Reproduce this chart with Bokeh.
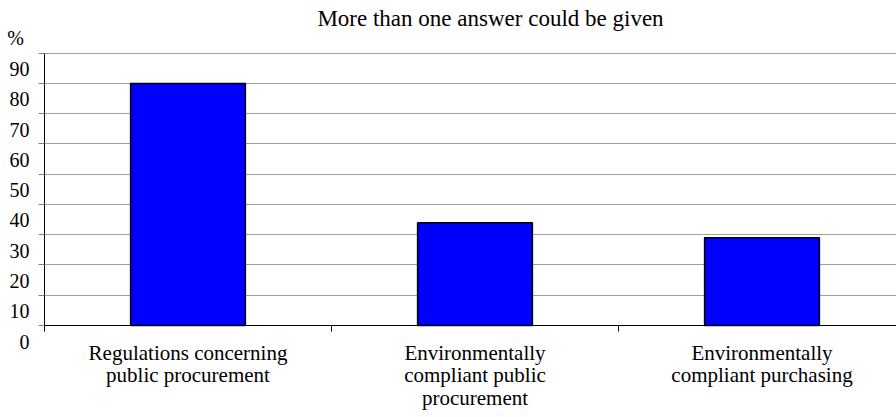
from bokeh.plotting import figure
from bokeh.models import FixedTicker, ColumnDataSource, Range1d
from bokeh.core.properties import value
from bokeh.embed import file_html
from bokeh.resources import INLINE

# ---- data ----
categories = [
    "Regulations concerning\npublic procurement",
    "Environmentally\ncompliant public\nprocurement",
    "Environmentally\ncompliant purchasing",
]
values = [80, 34, 29]
y_ticks = [0, 10, 20, 30, 40, 50, 60, 70, 80, 90]
y_tick_labels = ["0", "10", "20", "30", "40", "50", "60", "70", "80", "90"]
title_text = "More than one answer could be given"
unit_text = "%"

# ---- layout constants (pixels) ----
FONT = "Liberation Serif"
W, H = 896, 417
PLOT_LEFT = 44        # pixel of the y axis
BASELINE = 325        # pixel of value 0
TOP = 52.7            # pixel of value 90
CAT_W = 287           # pixels per category

n = len(categories)
centers = [i + 0.5 for i in range(n)]
boundaries = [float(i) for i in range(n + 1)]
y_max = y_ticks[-1]
px_per_unit = (BASELINE - TOP) / y_max

x_start = -PLOT_LEFT / CAT_W
x_end = (W - PLOT_LEFT) / CAT_W
y_end = BASELINE / px_per_unit
y_start = -(H - BASELINE) / px_per_unit

p = figure(
    width=W, height=H,
    x_range=Range1d(x_start, x_end), y_range=Range1d(y_start, y_end),
    output_backend="svg", toolbar_location=None,
    min_border_left=0, min_border_right=0, min_border_top=0, min_border_bottom=0,
)
p.outline_line_color = None
p.background_fill_color = "white"
p.border_fill_color = "white"

# grid
p.xgrid.visible = False
p.ygrid.ticker = FixedTicker(ticks=y_ticks)
p.ygrid.bounds = (0, y_max)
p.ygrid.grid_line_color = "#a0a0a0"
p.ygrid.grid_line_width = 1
try:
    p.ygrid.cross_bounds = (0, x_end)
except Exception:
    p.ygrid.visible = False
    p.segment(x0=[0] * len(y_ticks), x1=[x_end] * len(y_ticks), y0=y_ticks, y1=y_ticks,
              line_color="#a0a0a0", line_width=1)

# bars
src = ColumnDataSource(dict(x=centers, top=values))
p.vbar(x="x", top="top", bottom=0, width=0.4, source=src,
       fill_color="#0000ff", line_color="black", line_width=1.5)

# x axis drawn at y = 0
xa = p.xaxis[0]
xa.fixed_location = 0
xa.bounds = (0, x_end)
xa.ticker = FixedTicker(ticks=[], minor_ticks=boundaries)
xa.major_tick_out = 0
xa.major_tick_in = 0
xa.minor_tick_out = 6
xa.minor_tick_in = 0
xa.minor_tick_line_color = "black"
xa.axis_line_color = "black"
xa.major_label_standoff = 0

# y axis drawn at x = 0
ya = p.yaxis[0]
ya.fixed_location = 0
ya.bounds = (0, y_max)
ya.ticker = FixedTicker(ticks=[], minor_ticks=y_ticks)
ya.major_tick_out = 0
ya.major_tick_in = 0
ya.minor_tick_out = 6
ya.minor_tick_in = 0
ya.minor_tick_line_color = "#808080"
ya.axis_line_color = "black"
ya.major_label_standoff = 0

# y tick labels (drawn half a step below their grid lines, as in the source)
p.text(x=[0] * len(y_ticks), y=y_ticks, text=y_tick_labels,
       x_offset=-15, y_offset=16, text_align="right", text_baseline="middle",
       text_font=value(FONT), text_font_size="20px", text_color="black")

# unit label
p.text(x=[0], y=[y_max], text=[unit_text], x_offset=-29, y_offset=-15,
       text_align="center", text_baseline="middle",
       text_font=value(FONT), text_font_size="20px", text_color="black")

# category labels
p.text(x=centers, y=[0] * n, text=categories, y_offset=15,
       text_align="center", text_baseline="top", text_line_height=0.95,
       text_font=value(FONT), text_font_size="21px", text_color="black")

# title
title_x = x_start + (490 / W) * (x_end - x_start)
p.text(x=[title_x], y=[y_max], text=[title_text], y_offset=-35,
       text_align="center", text_baseline="middle",
       text_font=value(FONT), text_font_size="23px", text_color="black")

open("out.html", "w").write(file_html(p, INLINE))
